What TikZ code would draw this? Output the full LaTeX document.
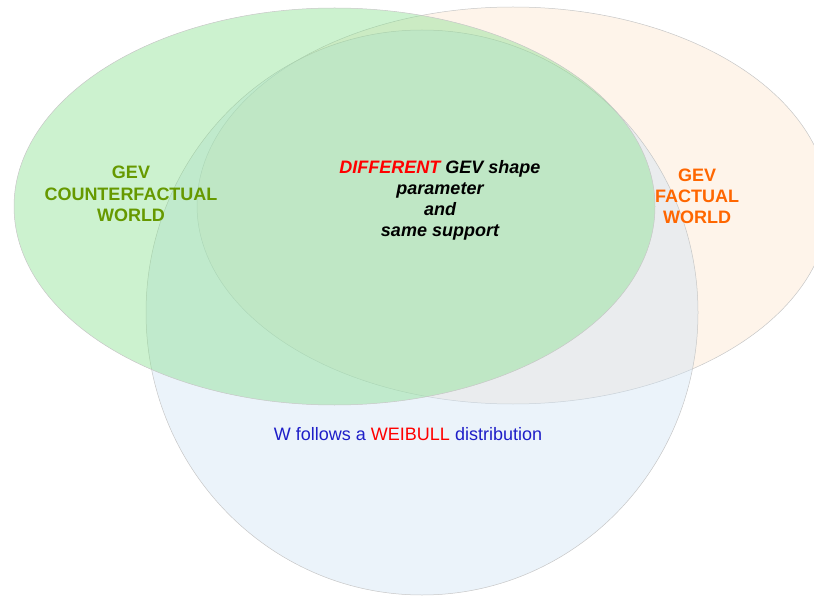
\documentclass[tikz,border=0pt]{standalone}
\usepackage{fontspec}
\setmainfont{Liberation Sans}
\definecolor{cfgreen}{RGB}{134,224,141}
\definecolor{fblue}{RGB}{207,226,243}
\definecolor{forange}{RGB}{252,229,205}
\definecolor{worldgreen}{RGB}{102,153,0}
\definecolor{worldorange}{RGB}{255,102,0}
\definecolor{weibullblue}{RGB}{30,30,200}
\tikzset{x=1pt, y=-1pt,
every set/.style={ % Sets the look of each of the three sets
line width=0.5pt,
draw=black!22,
fill opacity=0.42},
every tag/.style={ % Sets the look of each text
inner sep=0pt,
align=center,
font=\fontsize{18}{21.3}\selectfont\bfseries}}

\begin{document}
\begin{tikzpicture}
\useasboundingbox (0,0) rectangle (814,596);
% the three worlds
\path[every set, fill=forange] (513,205.5) ellipse [x radius=316, y radius=198.5];
\path[every set, fill=fblue] (422,312.5) ellipse [x radius=276, y radius=282.5];
\path[every set, fill=cfgreen] (334.5,206.5) ellipse [x radius=320.5, y radius=198.5];
% texts
\node[every tag, text=worldgreen] (counterfactual) at (131,194) {GEV\\COUNTERFACTUAL\\WORLD};
\node[every tag, text=worldorange] (factual) at (697,196.5) {GEV\\FACTUAL\\WORLD};
\node[every tag, font=\fontsize{18}{21}\selectfont\bfseries\itshape] (shape) at (440,200.5)
{\textcolor{red}{DIFFERENT} GEV shape\\parameter\\and\\same support};
\node[every tag, font=\fontsize{18}{21}\selectfont, text=weibullblue] (weibull) at (408,434)
{W follows a \textcolor{red}{WEIBULL} distribution};
\end{tikzpicture}
\end{document}
